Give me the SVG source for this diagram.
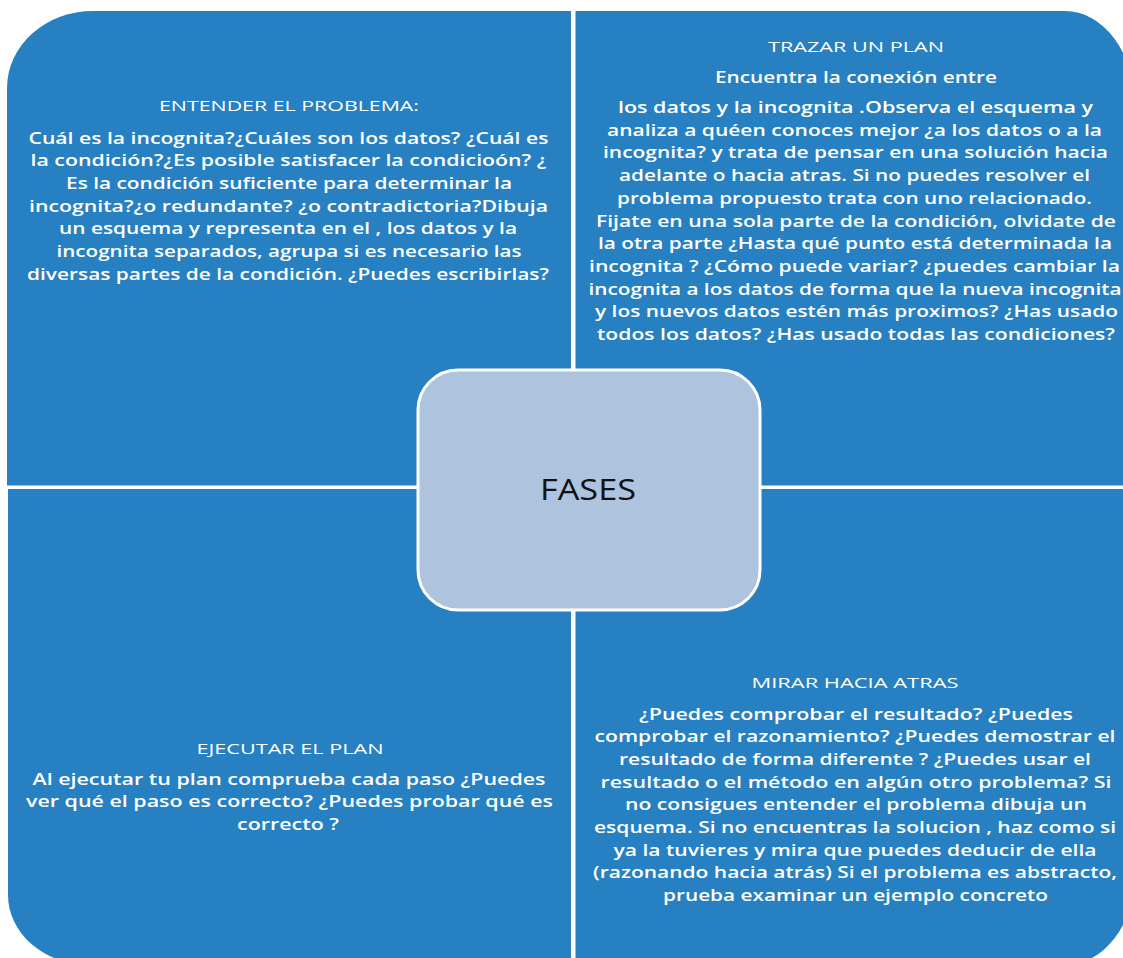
<svg xmlns="http://www.w3.org/2000/svg" width="1123" height="958" viewBox="0 0 1123 958">
<style>
.q{fill:#2680c2}
.t{font-family:"Open Sans","Liberation Sans",sans-serif;fill:#fff;text-anchor:middle}
.h{font-size:15px;font-weight:500}
.b{font-size:16.5px;font-weight:600}
.c{font-family:"Open Sans","Liberation Sans",sans-serif;fill:#111;text-anchor:middle;font-size:30px}
</style>
<rect width="1123" height="958" fill="#fff"/>
<g id="node-entender">
<path class="q" d="M7,88 A86,77 0 0 1 93,11 H571 V485.5 H7 Z"/>
<text class="t h" x="289" y="110.5" textLength="260" lengthAdjust="spacingAndGlyphs">ENTENDER EL PROBLEMA:</text>
<g class="t b">
<text x="288.5" y="143.5" textLength="520" lengthAdjust="spacingAndGlyphs">Cuál es la incognita?¿Cuáles son los datos? ¿Cuál es</text>
<text x="288.5" y="166.2" textLength="516" lengthAdjust="spacingAndGlyphs">la condición?¿Es posible satisfacer la condicioón? ¿</text>
<text x="289" y="188.9" textLength="446" lengthAdjust="spacingAndGlyphs">Es la condición suficiente para determinar la</text>
<text x="288.5" y="211.6" textLength="519" lengthAdjust="spacingAndGlyphs">incognita?¿o redundante? ¿o contradictoria?Dibuja</text>
<text x="288" y="234.3" textLength="458" lengthAdjust="spacingAndGlyphs">un esquema y representa en el , los datos y la</text>
<text x="289" y="257" textLength="465" lengthAdjust="spacingAndGlyphs">incognita separados, agrupa si es necesario las</text>
<text x="288" y="279.7" textLength="522" lengthAdjust="spacingAndGlyphs">diversas partes de la condición. ¿Puedes escribirlas?</text>
</g>
</g>
<g id="node-trazar">
<path class="q" d="M575.5,11 H1065 A70,95 0 0 1 1135,106 V485.5 H575.5 Z"/>
<text class="t h" x="856" y="52" textLength="176" lengthAdjust="spacingAndGlyphs">TRAZAR UN PLAN</text>
<g class="t b">
<text x="856" y="83.3" textLength="282" lengthAdjust="spacingAndGlyphs">Encuentra la conexión entre</text>
<text x="855.5" y="113" textLength="475" lengthAdjust="spacingAndGlyphs">los datos y la incognita .Observa  el esquema  y</text>
<text x="854.5" y="135.7" textLength="495" lengthAdjust="spacingAndGlyphs">analiza a quéen conoces mejor ¿a los datos o a la</text>
<text x="855.5" y="158.4" textLength="505" lengthAdjust="spacingAndGlyphs">incognita? y trata de pensar en una solución hacia</text>
<text x="854.5" y="181.1" textLength="471" lengthAdjust="spacingAndGlyphs">adelante o hacia atras. Si no puedes resolver el</text>
<text x="854.5" y="203.8" textLength="475" lengthAdjust="spacingAndGlyphs">problema propuesto trata con uno relacionado.</text>
<text x="856" y="226.5" textLength="520" lengthAdjust="spacingAndGlyphs">Fijate  en una sola parte de la condición, olvidate de</text>
<text x="855" y="249.2" textLength="514" lengthAdjust="spacingAndGlyphs">la otra parte ¿Hasta qué punto está determinada la</text>
<text x="854.5" y="271.9" textLength="531" lengthAdjust="spacingAndGlyphs">incognita ? ¿Cómo puede variar? ¿puedes cambiar la</text>
<text x="855" y="294.6" textLength="533" lengthAdjust="spacingAndGlyphs">incognita a los datos de forma que la nueva incognita</text>
<text x="856.5" y="317.3" textLength="523" lengthAdjust="spacingAndGlyphs">y los nuevos datos estén más proximos? ¿Has usado</text>
<text x="856" y="340" textLength="518" lengthAdjust="spacingAndGlyphs">todos los datos? ¿Has usado todas las condiciones?</text>
</g>
</g>
<g id="node-ejecutar">
<path class="q" d="M8,489 H571 V965 H90 A82,70 0 0 1 8,895 Z"/>
<text class="t h" x="290" y="753.5" textLength="187" lengthAdjust="spacingAndGlyphs">EJECUTAR EL PLAN</text>
<g class="t b">
<text x="289" y="784.5" textLength="513" lengthAdjust="spacingAndGlyphs">Al  ejecutar tu plan comprueba cada  paso ¿Puedes</text>
<text x="289.5" y="807.2" textLength="527" lengthAdjust="spacingAndGlyphs">ver qué el  paso es correcto?  ¿Puedes probar qué es</text>
<text x="288" y="829.9" textLength="102" lengthAdjust="spacingAndGlyphs">correcto ?</text>
</g>
</g>
<g id="node-mirar">
<path class="q" d="M575.5,489 H1135 V874 A70,91 0 0 1 1065,965 H575.5 Z"/>
<text class="t h" x="855" y="687.5" textLength="207" lengthAdjust="spacingAndGlyphs">MIRAR HACIA ATRAS</text>
<g class="t b">
<text x="856" y="719.5" textLength="434" lengthAdjust="spacingAndGlyphs">¿Puedes comprobar el resultado?  ¿Puedes</text>
<text x="855" y="742.2" textLength="521" lengthAdjust="spacingAndGlyphs">comprobar el razonamiento? ¿Puedes  demostrar el</text>
<text x="855" y="764.9" textLength="472" lengthAdjust="spacingAndGlyphs">resultado de forma diferente ? ¿Puedes usar el</text>
<text x="856" y="787.6" textLength="511" lengthAdjust="spacingAndGlyphs">resultado  o el método en algún otro problema?  Si</text>
<text x="856" y="810.3" textLength="462" lengthAdjust="spacingAndGlyphs">no consigues entender el problema  dibuja un</text>
<text x="855" y="833" textLength="522" lengthAdjust="spacingAndGlyphs">esquema. Si no encuentras la  solucion , haz como si</text>
<text x="855" y="855.7" textLength="483" lengthAdjust="spacingAndGlyphs">ya la tuvieres  y mira que puedes deducir de ella</text>
<text x="855" y="878.4" textLength="524" lengthAdjust="spacingAndGlyphs">(razonando hacia atrás)  Si el problema es abstracto,</text>
<text x="855.5" y="901.1" textLength="385" lengthAdjust="spacingAndGlyphs">prueba examinar un ejemplo concreto</text>
</g>
</g>
<g id="node-fases">
<rect x="418" y="370" width="342" height="240" rx="40" ry="40" fill="#adc3de" stroke="#fff" stroke-width="3"/>
<text class="c" x="588" y="500" textLength="96" lengthAdjust="spacingAndGlyphs">FASES</text>
</g>
<g id="connectors"/>
</svg>
